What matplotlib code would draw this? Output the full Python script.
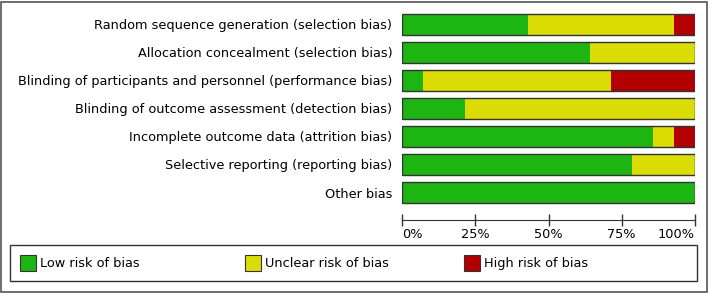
import numpy as np
import matplotlib.pyplot as plt
from matplotlib.patches import Patch, Rectangle

# risk of bias domains, % of studies (14 studies)
domains = ['Random sequence generation (selection bias)',
           'Allocation concealment (selection bias)',
           'Blinding of participants and personnel (performance bias)',
           'Blinding of outcome assessment (detection bias)',
           'Incomplete outcome data (attrition bias)',
           'Selective reporting (reporting bias)',
           'Other bias']
low = [42.9, 64.3, 7.1, 21.4, 85.7, 78.6, 100.0]
unclear = [50.0, 35.7, 64.3, 78.6, 7.1, 21.4, 0.0]
high = [7.1, 0.0, 28.6, 0.0, 7.1, 0.0, 0.0]
tick_vals = [0, 25, 50, 75, 100]
tick_labels = ['0%', '25%', '50%', '75%', '100%']
legend_labels = ['Low risk of bias', 'Unclear risk of bias', 'High risk of bias']

c_low = '#1db512'
c_unclear = '#dcdc05'
c_high = '#b20000'
fs = 9.3

W, H = 709, 293
fig = plt.figure(figsize=(W / 100, H / 100), dpi=100)

# axes in pixel coords: left 402, right 695, top 10.5, bottom 220
ax = fig.add_axes([402 / W, 1 - 220 / H, (695 - 402) / W, (220 - 10.5) / H])
y = np.arange(len(domains))
low = np.array(low)
unclear = np.array(unclear)
high = np.array(high)
ax.barh(y, low, height=0.75, color=c_low, linewidth=0)
ax.barh(y, unclear, left=low, height=0.75, color=c_unclear, linewidth=0)
ax.barh(y, high, left=low + unclear, height=0.75, color=c_high, linewidth=0)
ax.barh(y, low + unclear + high, height=0.75, fill=False, edgecolor='#333333', linewidth=1.0)

ax.set_xlim(0, 100)
ax.set_ylim(-0.5 + 209.5 / 28, -0.5)
ax.set_yticks(y)
ax.set_yticklabels(domains, fontsize=fs)
ax.tick_params(axis='y', length=0, pad=7)
ax.set_xticks(tick_vals)
ax.set_xticklabels(tick_labels, fontsize=fs)
ax.tick_params(axis='x', direction='inout', length=8, width=1, color='#333333', pad=2)
xl = ax.get_xticklabels()
xl[0].set_ha('left')
xl[-1].set_ha('right')
for s in ['top', 'left', 'right']:
    ax.spines[s].set_visible(False)
ax.spines['bottom'].set_color('#333333')
ax.patch.set_alpha(0)

# legend box, one entry per column position
fig.patches.append(Rectangle((10 / W, 1 - 281 / H), (697 - 10) / W, (281 - 245) / H,
                             transform=fig.transFigure, fill=False, edgecolor='#333333', linewidth=1.0))
entry_x = [20, 245, 464]
for c, lab, px in zip([c_low, c_unclear, c_high], legend_labels, entry_x):
    h = Patch(facecolor=c, edgecolor='#333333', linewidth=0.8)
    fig.legend([h], [lab], fontsize=fs, loc='center left', frameon=False,
               bbox_to_anchor=(px / W, 1 - 263 / H), borderaxespad=0, borderpad=0,
               handlelength=1.2, handleheight=1.55, handletextpad=0.35)

fig.patches.append(Rectangle((1 / W, 1 / H), (W - 3) / W, (H - 3) / H, transform=fig.transFigure,
                             fill=False, edgecolor='#555555', linewidth=1.2))

fig.savefig('out.png', dpi=100)
